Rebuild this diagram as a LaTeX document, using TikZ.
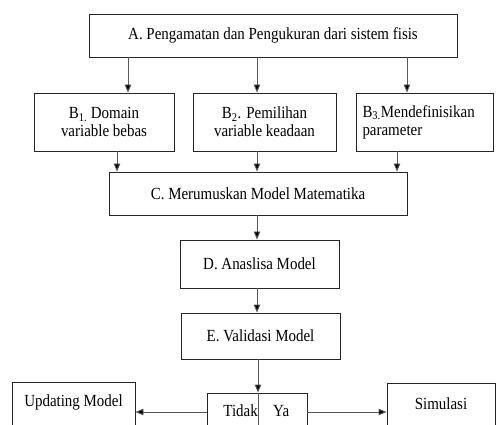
\documentclass[tikz,border=0pt]{standalone}
\usepackage{fontspec}
\setmainfont[FakeStretch=0.88]{Liberation Serif}
\usetikzlibrary{arrows.meta}
\begin{document}
\begin{tikzpicture}[x=1pt,y=-1pt,
  box/.style={draw=black!85,line width=0.9pt,rectangle,inner sep=2pt,font=\fontsize{17}{18}\selectfont},
  arr/.style={draw=black!65,line width=0.9pt,-{Triangle[length=8pt,width=6.5pt,fill=black]}},
  lin/.style={draw=black!65,line width=0.9pt}]
\path[use as bounding box,clip] (0,0) rectangle (496,425);
\node[box,minimum width=368pt,minimum height=43pt] (A) at (273,35.5) {A. Pengamatan dan Pengukuran dari sistem fisis};
\node[box,minimum width=140pt,minimum height=58pt,align=center] (B1) at (104,122) {B\textsubscript{1.} Domain\\variable bebas};
\node[box,minimum width=143pt,minimum height=58pt,align=center] (B2) at (264.5,122) {B\textsubscript{2}. Pemilihan\\variable keadaan};
\node[box,minimum width=137pt,minimum height=58pt,align=left,text width=125pt] (B3) at (425,122) {B\textsubscript{3.}Mendefinisikan\\parameter};
\node[box,minimum width=298pt,minimum height=43pt] (C) at (258,193.5) {C. Merumuskan Model Matematika};
\node[box,minimum width=159pt,minimum height=48pt] (D) at (259.5,264) {D. Anaslisa Model};
\node[box,minimum width=159pt,minimum height=46pt] (E) at (260.5,336) {E. Validasi Model};
\node[box,minimum width=100pt,minimum height=52pt] (TY) at (257,419) {};
\node[anchor=base east,inner sep=0pt,font=\fontsize{17}{18}\selectfont] (tidak) at (258,416) {Tidak};
\node[anchor=base west,inner sep=0pt,font=\fontsize{17}{18}\selectfont] (ya) at (273,416) {Ya};
\node[box,minimum width=123pt,minimum height=60pt,text height=12pt,text depth=24pt] (U) at (73.5,412) {Updating Model};
\node[box,minimum width=108pt,minimum height=58pt,text height=12pt,text depth=18pt] (S) at (441,412) {Simulasi};
% arrows A -> B
\draw[arr] ([xshift=-145pt]A.south) -- ([xshift=24pt]B1.north);
\draw[arr] ([xshift=-16pt]A.south) -- ([xshift=-7.5pt]B2.north);
\draw[arr] ([xshift=134pt]A.south) -- ([xshift=-18pt]B3.north);
% arrows B -> C
\draw[arr] ([xshift=13pt]B1.south) -- ([xshift=-141pt]C.north);
\draw[arr] ([xshift=-7.5pt]B2.south) -- ([xshift=-1pt]C.north);
\draw[arr] ([xshift=-28pt]B3.south) -- ([xshift=139pt]C.north);
% chain
\draw[arr] ([xshift=-1pt]C.south) -- ([xshift=-2.5pt]D.north);
\draw[arr] ([xshift=-2.5pt]D.south) -- ([xshift=-3.5pt]E.north);
\draw[arr] ([xshift=-2.5pt]E.south) -- ([xshift=1pt]TY.north);
\draw[lin] ([xshift=1pt]TY.north) -- ([xshift=1pt]TY.south);
\draw[arr] ([yshift=7pt]TY.west) -- (U.east);
\draw[arr] ([yshift=7pt]TY.east) -- (S.west);
\end{tikzpicture}
\end{document}
